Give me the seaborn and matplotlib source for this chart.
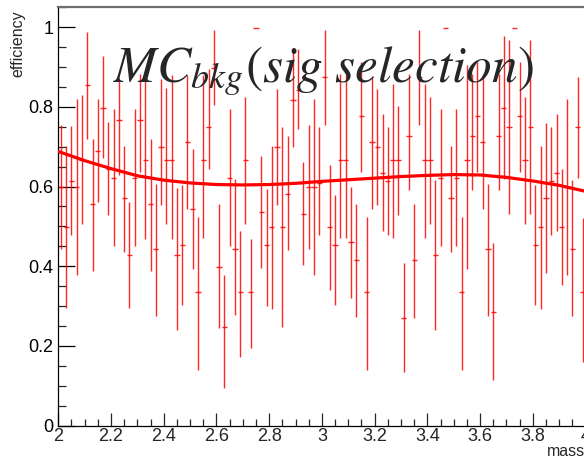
import numpy as np
import matplotlib
matplotlib.use("Agg")
import matplotlib.pyplot as plt
import seaborn as sns
from matplotlib.ticker import MultipleLocator

# ---------------- data ----------------
mass_min, mass_max, n_bins = 2.0, 4.0, 100
bin_width = (mass_max - mass_min) / n_bins
mass = mass_min + bin_width * (np.arange(n_bins) + 0.5)

eff = [0.600, 0.499, 0.614, 0.599, 0.666, 0.854, 0.555, 0.690, 0.797, 0.645,
       0.622, 0.766, 0.571, 0.428, 0.622, 0.766, 0.666, 0.555, 0.444, 0.699,
       0.666, 0.666, 0.428, 0.453, 0.713, 0.543, 0.334, 0.666, 0.749, 0.898,
       0.398, 0.248, 0.622, 0.444, 0.334, 0.666, 0.334, 0.999, 0.536, 0.453,
       0.499, 0.699, 0.499, 0.582, 0.818, 0.843, 0.532, 0.599, 0.599, 0.610,
       0.876, 0.499, 0.453, 0.666, 0.666, 0.461, 0.415, 0.776, 0.334, 0.713,
       0.699, 0.634, 0.614, 0.666, 0.666, 0.271, 0.727, 0.415, 0.876, 0.666,
       0.666, 0.428, 0.622, 0.999, 0.571, 0.622, 0.334, 0.666, 0.727, 0.776,
       0.713, 0.444, 0.285, 0.727, 0.797, 0.749, 0.999, 0.776, 0.666, 0.749,
       0.453, 0.499, 0.571, 0.614, 0.634, 0.499, 0.599, 0.444, 0.749, 0.334]

eff_low = [0.444, 0.294, 0.479, 0.377, 0.507, 0.720, 0.388, 0.561, 0.672, 0.528,
           0.451, 0.630, 0.436, 0.296, 0.451, 0.636, 0.469, 0.388, 0.275, 0.553,
           0.507, 0.469, 0.240, 0.302, 0.543, 0.394, 0.139, 0.472, 0.645, 0.804,
           0.245, 0.095, 0.451, 0.277, 0.173, 0.507, 0.195, 0.999, 0.396, 0.301,
           0.292, 0.553, 0.248, 0.440, 0.700, 0.744, 0.402, 0.443, 0.379, 0.479,
           0.755, 0.340, 0.302, 0.471, 0.471, 0.321, 0.273, 0.636, 0.139, 0.543,
           0.553, 0.488, 0.479, 0.471, 0.528, 0.135, 0.591, 0.271, 0.755, 0.471,
           0.507, 0.240, 0.451, 0.999, 0.436, 0.451, 0.139, 0.392, 0.591, 0.636,
           0.543, 0.275, 0.114, 0.591, 0.618, 0.530, 0.999, 0.636, 0.507, 0.530,
           0.302, 0.292, 0.384, 0.479, 0.488, 0.354, 0.379, 0.275, 0.621, 0.160]

eff_high = [0.754, 0.703, 0.751, 0.819, 0.829, 0.989, 0.720, 0.819, 0.927, 0.762,
            0.795, 0.864, 0.703, 0.561, 0.795, 0.883, 0.879, 0.720, 0.607, 0.869,
            0.847, 0.881, 0.596, 0.603, 0.881, 0.693, 0.524, 0.879, 0.896, 0.994,
            0.555, 0.377, 0.795, 0.620, 0.488, 0.825, 0.469, 0.999, 0.677, 0.595,
            0.702, 0.844, 0.749, 0.726, 0.937, 0.946, 0.662, 0.754, 0.819, 0.749,
            0.992, 0.655, 0.578, 0.883, 0.881, 0.599, 0.557, 0.912, 0.524, 0.877,
            0.844, 0.783, 0.749, 0.858, 0.802, 0.407, 0.883, 0.557, 0.992, 0.858,
            0.825, 0.616, 0.795, 0.999, 0.702, 0.795, 0.524, 0.904, 0.883, 0.912,
            0.883, 0.607, 0.457, 0.883, 0.977, 0.967, 0.999, 0.912, 0.825, 0.967,
            0.603, 0.702, 0.760, 0.749, 0.783, 0.643, 0.819, 0.616, 0.875, 0.520]

fit_mass = [2.0, 2.1, 2.2, 2.3, 2.4, 2.5, 2.6, 2.7, 2.8, 2.9, 3.0,
            3.1, 3.2, 3.3, 3.4, 3.5, 3.6, 3.7, 3.8, 3.9, 4.0]
fit_eff = [0.688, 0.665, 0.645, 0.627, 0.616, 0.609, 0.605, 0.604, 0.605, 0.608, 0.613,
           0.617, 0.621, 0.625, 0.628, 0.630, 0.629, 0.623, 0.614, 0.603, 0.588]

x_ticks = [2.0, 2.2, 2.4, 2.6, 2.8, 3.0, 3.2, 3.4, 3.6, 3.8, 4.0]
x_tick_labels = ["2", "2.2", "2.4", "2.6", "2.8", "3", "3.2", "3.4", "3.6", "3.8", "4"]
y_ticks = [0.0, 0.2, 0.4, 0.6, 0.8, 1.0]
y_tick_labels = ["0", "0.2", "0.4", "0.6", "0.8", "1"]

title_text = r"$MC_{bkg}(sig\ selection)$"
x_label = "mass"
y_label = "efficiency"

# ---------------- drawing ----------------
sns.set_style("ticks")
plt.rcParams["font.family"] = ["Liberation Sans", "DejaVu Sans"]
plt.rcParams["mathtext.fontset"] = "stix"

W, H = 584, 459
fig = plt.figure(figsize=(W / 100, H / 100), dpi=100)
ax = fig.add_axes([58.3 / W, 1 - 425.5 / H, (585.5 - 58.3) / W, (425.5 - 7.3) / H])

eff_a = np.array(eff)
yerr = [eff_a - np.array(eff_low), np.array(eff_high) - eff_a]
ax.errorbar(mass, eff_a, yerr=yerr, xerr=bin_width / 2, fmt="none",
            ecolor="#ff0000", elinewidth=1.0, capsize=0, alpha=0.85, zorder=2)

sns.lineplot(x=fit_mass, y=fit_eff, color="#ff0000", linewidth=2.3, ax=ax, zorder=3)

ax.set_xlim(mass_min, mass_max)
ax.set_ylim(0, 1.05)
ax.set_xticks(x_ticks)
ax.set_xticklabels(x_tick_labels)
ax.set_yticks(y_ticks)
ax.set_yticklabels(y_tick_labels)
ax.xaxis.set_minor_locator(MultipleLocator(0.05))
ax.yaxis.set_minor_locator(MultipleLocator(0.05))

ax.tick_params(axis="y", which="major", direction="in", length=12.2, width=0.9,
               labelsize=13, pad=3.5, colors="black")
ax.tick_params(axis="y", which="minor", direction="in", length=5.8, width=0.9)
ax.tick_params(axis="x", which="major", direction="in", length=9.4, width=0.9,
               labelsize=13, pad=1.5)
ax.tick_params(axis="x", which="minor", direction="in", length=5.0, width=0.9)
ax.tick_params(top=False, right=False, which="both")

for s in ["left", "bottom"]:
    ax.spines[s].set_color("black")
    ax.spines[s].set_linewidth(0.9)
ax.spines["top"].set_color("#6e6e6e")
ax.spines["top"].set_linewidth(1.6)
ax.spines["right"].set_visible(False)

ax.set_xlabel("")
ax.set_ylabel("")
fig.text(17.5 / W, 1 - 10 / H, y_label, rotation=90, ha="center", va="top", fontsize=11.5)
fig.text(585 / W, 1 - 456 / H, x_label, ha="right", va="baseline", fontsize=11.5)

fig.text(113 / W, 1 - 82 / H, title_text, ha="left", va="baseline", fontsize=37)

fig.savefig("out.png", dpi=100)
